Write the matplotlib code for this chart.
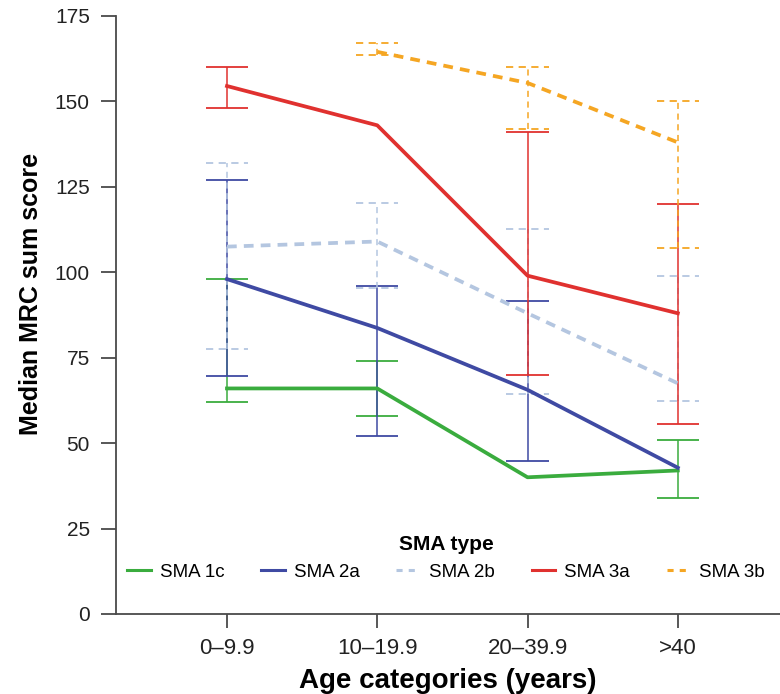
import numpy as np
import matplotlib
matplotlib.use("Agg")
import matplotlib.pyplot as plt
from matplotlib.lines import Line2D

nan = np.nan
categories = ["0\u20139.9", "10\u201319.9", "20\u201339.9", ">40"]
series_names = ["SMA 1c", "SMA 2a", "SMA 2b", "SMA 3a", "SMA 3b"]

sma1c_med = [66, 66, 40, 42]
sma1c_lo = [62, 58, nan, 34]
sma1c_hi = [98, 74, nan, 51]

sma2a_med = [98, 83.7, 65.6, 42.8]
sma2a_lo = [69.5, 52, 44.8, nan]
sma2a_hi = [127, 96, 91.6, nan]

sma2b_med = [107.5, 109, 88, 67.5]
sma2b_lo = [77.5, 95.4, 64.5, 62.4]
sma2b_hi = [132, 120.3, 112.7, 99]

sma3a_med = [154.5, 143, 99, 88]
sma3a_lo = [148, nan, 70, 55.6]
sma3a_hi = [160, nan, 141, 120]

sma3b_med = [nan, 164.5, 155.4, 138]
sma3b_lo = [nan, 163.5, 142, 107]
sma3b_hi = [nan, 167, 160, 150]

colors = ["#3aac3e", "#3f4aa3", "#b4c6e0", "#e0312f", "#f5a623"]
styles = ["solid", "solid", "dashed", "solid", "dashed"]

meds = [sma1c_med, sma2a_med, sma2b_med, sma3a_med, sma3b_med]
los = [sma1c_lo, sma2a_lo, sma2b_lo, sma3a_lo, sma3b_lo]
his = [sma1c_hi, sma2a_hi, sma2b_hi, sma3a_hi, sma3b_hi]

FONT = "Liberation Sans"
fig = plt.figure(figsize=(7.8, 6.94), dpi=100)
ax = fig.add_axes([0.149, 0.1153, 0.851, 0.8617])

x = np.arange(1, len(categories) + 1)
cap_w = 0.14
handles = []
for name, med, lo, hi, c, ls in zip(series_names, meds, los, his, colors, styles):
    lo = np.array(lo, float)
    hi = np.array(hi, float)
    ok = ~np.isnan(lo)
    ax.vlines(x[ok], lo[ok], hi[ok], colors=c, linewidth=1.1,
              linestyles=(0, (4, 3)) if ls == "dashed" else "solid", zorder=2)
    for arr in (lo, hi):
        ax.hlines(arr[ok], x[ok] - cap_w, x[ok] + cap_w, colors=c, linewidth=1.3,
                  linestyles=(0, (4, 3)) if ls == "dashed" else "solid", zorder=2)
    med = np.array(med, float)
    dash = (0, (2.6, 1.9)) if ls == "dashed" else "solid"
    ax.plot(x, med, color=c, linewidth=2.7, linestyle=dash, zorder=3)
    handles.append(Line2D([0], [0], color=c, linewidth=2.2,
                          linestyle=(0, (2, 2)) if ls == "dashed" else "solid"))

ax.set_ylim(0, 175)
ax.set_xlim(0.263, 4.68)
ax.set_yticks([0, 25, 50, 75, 100, 125, 150, 175])
ax.set_xticks(x)
ax.set_xticklabels(categories)
for s in ("top", "right"):
    ax.spines[s].set_visible(False)
for s in ("left", "bottom"):
    ax.spines[s].set_color("#4a4a4a")
    ax.spines[s].set_linewidth(1.3)
ax.tick_params(axis="y", length=11, width=1.3, color="#4a4a4a", labelsize=15, pad=8)
ax.tick_params(axis="x", length=10, width=1.3, color="#4a4a4a", labelsize=16, pad=7)
for lbl in ax.get_yticklabels() + ax.get_xticklabels():
    lbl.set_family(FONT)
    lbl.set_color("#222222")

ax.set_ylabel("Median MRC sum score", fontsize=18, fontweight="bold",
              family=FONT)
ax.yaxis.set_label_coords(-0.111, 0.535)
ax.set_xlabel("Age categories (years)", fontsize=20, fontweight="bold",
              family=FONT, labelpad=7)

leg = ax.legend(handles, series_names, title="SMA type", loc="lower center",
                bbox_to_anchor=(0.497, 0.04), ncol=5, frameon=False,
                handlelength=1.25, columnspacing=1.95, handletextpad=0.5,
                borderpad=0, labelspacing=0.3,
                prop={"family": FONT, "size": 13.5},
                title_fontproperties={"family": FONT, "size": 15, "weight": "bold"})
leg._legend_box.sep = 7

fig.savefig("out.png", dpi=100)
